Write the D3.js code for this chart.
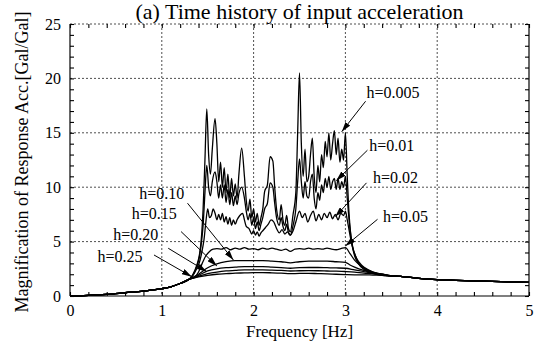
<!DOCTYPE html>
<html>
<head>
<meta charset="utf-8">
<script src="https://cdn.jsdelivr.net/npm/d3@7"></script>
<style>
	body { margin: 0; background: #fff; }
	svg { display: block; font-family: "Liberation Serif", "Times New Roman", serif; }
	svg text { font-family: "Liberation Serif", "Times New Roman", serif; }
</style>
</head>
<body>
<svg id="chart" width="536" height="343"></svg>
<script>
// common low-frequency rise and high-frequency tail, shared by every damping ratio
const rise = [[0,0],[0.1,0.02],[0.2,0.05],[0.4,0.15],[0.6,0.3],[0.8,0.45],[1.0,0.67],[1.1,0.85],[1.2,1.15],[1.3,1.55]];
const tail = [[3.5,1.85],[3.6,1.8],[3.8,1.62],[4.0,1.5],[4.2,1.44],[4.5,1.36],[4.8,1.3],[5.0,1.26]];

const h005 = [[1.34,2.0],[1.38,2.8],[1.41,3.8],[1.43,5.2],[1.45,8.0],[1.47,12.5],[1.49,17.2],[1.51,13.0],[1.53,11.2],[1.55,13.5],[1.58,16.3],[1.60,14.0],[1.62,10.5],[1.64,12.3],[1.66,10.0],[1.68,11.8],[1.70,9.5],[1.72,11.2],[1.74,9.0],[1.76,10.8],[1.78,9.2],[1.80,10.3],[1.82,9.0],[1.84,11.2],[1.87,13.6],[1.90,11.0],[1.92,8.8],[1.94,7.8],[1.96,8.9],[1.98,7.2],[2.00,8.0],[2.02,6.8],[2.04,7.6],[2.06,6.5],[2.08,7.2],[2.10,8.0],[2.12,9.6],[2.15,10.2],[2.18,12.8],[2.21,12.4],[2.23,10.0],[2.25,8.0],[2.28,7.0],[2.30,8.4],[2.32,7.0],[2.34,6.5],[2.36,7.4],[2.38,6.2],[2.40,5.9],[2.43,7.5],[2.46,9.5],[2.48,15.0],[2.50,20.5],[2.52,14.0],[2.54,11.0],[2.56,13.5],[2.58,10.5],[2.60,11.0],[2.62,13.0],[2.64,14.5],[2.66,11.0],[2.68,9.5],[2.70,12.0],[2.72,10.5],[2.74,13.0],[2.76,11.8],[2.78,14.2],[2.80,12.8],[2.82,15.0],[2.84,12.5],[2.86,14.0],[2.88,15.2],[2.90,13.0],[2.92,14.5],[2.94,12.3],[2.96,13.5],[2.98,12.5],[3.00,15.0],[3.02,11.0],[3.04,7.5],[3.06,5.5],[3.08,4.4],[3.10,3.7],[3.14,3.0],[3.20,2.45],[3.30,2.05],[3.40,1.9]];
const h01 = [[1.34,1.95],[1.38,2.7],[1.41,3.6],[1.43,4.8],[1.45,6.5],[1.47,9.5],[1.49,12.0],[1.51,10.0],[1.53,9.2],[1.55,10.5],[1.58,11.4],[1.60,10.5],[1.62,9.0],[1.64,10.2],[1.66,9.0],[1.68,10.2],[1.70,8.6],[1.72,9.8],[1.74,8.4],[1.76,9.5],[1.78,8.3],[1.80,9.2],[1.82,8.4],[1.84,9.4],[1.87,10.0],[1.90,9.0],[1.92,7.8],[1.94,7.0],[1.96,7.6],[1.98,6.5],[2.00,7.2],[2.02,6.2],[2.04,6.8],[2.06,6.0],[2.08,6.6],[2.10,7.2],[2.12,8.0],[2.15,8.5],[2.18,10.4],[2.21,10.0],[2.23,8.5],[2.25,7.2],[2.28,6.5],[2.30,7.2],[2.32,6.4],[2.34,6.0],[2.36,6.6],[2.38,5.8],[2.40,5.6],[2.43,6.5],[2.46,8.0],[2.48,10.5],[2.50,12.6],[2.52,10.5],[2.54,9.0],[2.56,10.5],[2.58,9.2],[2.60,9.0],[2.62,10.5],[2.64,11.2],[2.66,9.0],[2.68,8.0],[2.70,9.5],[2.72,8.8],[2.74,10.2],[2.76,9.5],[2.78,10.8],[2.80,10.0],[2.82,11.0],[2.84,9.8],[2.86,10.5],[2.88,10.8],[2.90,9.8],[2.92,10.8],[2.94,9.8],[2.96,10.5],[2.98,10.0],[3.00,11.0],[3.02,9.0],[3.04,7.0],[3.06,5.5],[3.08,4.5],[3.10,3.9],[3.14,3.1],[3.20,2.55],[3.30,2.1],[3.40,1.92]];
const h02 = [[1.34,1.9],[1.38,2.5],[1.41,3.1],[1.44,4.2],[1.46,5.2],[1.48,6.8],[1.50,8.0],[1.52,7.2],[1.54,7.4],[1.56,8.0],[1.58,7.6],[1.60,7.0],[1.62,7.5],[1.64,7.0],[1.66,7.6],[1.68,6.8],[1.70,7.3],[1.72,6.6],[1.74,7.2],[1.76,6.5],[1.78,7.0],[1.80,6.6],[1.82,7.0],[1.85,7.4],[1.88,7.6],[1.90,7.0],[1.92,6.4],[1.95,6.2],[1.98,5.7],[2.00,6.0],[2.02,5.6],[2.04,5.9],[2.06,5.5],[2.08,5.8],[2.10,6.0],[2.13,6.3],[2.16,6.6],[2.19,7.0],[2.22,6.8],[2.25,6.2],[2.28,5.8],[2.31,6.1],[2.34,5.7],[2.37,5.9],[2.40,5.6],[2.43,6.0],[2.46,6.8],[2.50,7.8],[2.53,7.2],[2.56,7.6],[2.59,6.8],[2.62,7.4],[2.65,7.8],[2.68,6.9],[2.71,7.5],[2.74,7.0],[2.77,7.6],[2.80,7.2],[2.83,7.7],[2.86,7.1],[2.89,7.5],[2.92,7.0],[2.95,7.6],[2.98,7.4],[3.00,7.8],[3.02,7.0],[3.05,5.6],[3.08,4.4],[3.12,3.5],[3.18,2.8],[3.25,2.4],[3.35,2.05],[3.45,1.88]];
const h05 = [[1.36,1.75],[1.40,2.2],[1.44,3.0],[1.48,3.7],[1.52,4.1],[1.56,4.3],[1.60,4.35],[1.65,4.3],[1.70,4.45],[1.75,4.25],[1.80,4.4],[1.85,4.3],[1.90,4.45],[1.95,4.3],[2.00,4.35],[2.05,4.25],[2.10,4.4],[2.15,4.3],[2.20,4.4],[2.25,4.3],[2.30,4.2],[2.35,4.3],[2.40,4.1],[2.45,4.3],[2.50,4.35],[2.55,4.3],[2.60,4.4],[2.65,4.3],[2.70,4.35],[2.75,4.3],[2.80,4.4],[2.85,4.3],[2.90,4.25],[2.95,4.35],[3.00,4.45],[3.05,3.9],[3.10,3.3],[3.15,2.9],[3.20,2.6],[3.30,2.2],[3.40,2.0]];
const h10 = [[1.4,2.0],[1.5,2.6],[1.6,2.95],[1.7,3.15],[1.8,3.25],[1.9,3.25],[2.0,3.25],[2.1,3.25],[2.2,3.2],[2.3,3.15],[2.4,3.05],[2.5,3.15],[2.6,3.2],[2.7,3.2],[2.8,3.2],[2.9,3.15],[3.0,3.1],[3.05,2.85],[3.1,2.65],[3.2,2.35],[3.3,2.15],[3.4,2.0]];
const h15 = [[1.4,1.9],[1.5,2.3],[1.6,2.5],[1.7,2.6],[1.8,2.65],[1.9,2.7],[2.0,2.7],[2.1,2.7],[2.2,2.65],[2.3,2.6],[2.4,2.55],[2.5,2.6],[2.6,2.62],[2.7,2.62],[2.8,2.6],[2.9,2.58],[3.0,2.55],[3.1,2.4],[3.2,2.25],[3.3,2.1],[3.4,2.0]];
const h20 = [[1.4,1.8],[1.5,2.05],[1.6,2.2],[1.7,2.3],[1.8,2.35],[1.9,2.4],[2.0,2.4],[2.1,2.4],[2.2,2.38],[2.3,2.35],[2.4,2.3],[2.5,2.32],[2.6,2.33],[2.7,2.32],[2.8,2.3],[2.9,2.28],[3.0,2.25],[3.1,2.2],[3.2,2.1],[3.3,2.05],[3.4,1.95]];
const h25 = [[1.4,1.75],[1.5,1.9],[1.6,2.0],[1.7,2.05],[1.8,2.1],[1.9,2.12],[2.0,2.15],[2.1,2.15],[2.2,2.13],[2.3,2.1],[2.4,2.05],[2.5,2.08],[2.6,2.08],[2.7,2.06],[2.8,2.04],[2.9,2.0],[3.0,1.97],[3.1,1.95],[3.2,1.95],[3.3,1.92],[3.4,1.9]];

const seriesMids = [h005, h01, h02, h05, h10, h15, h20, h25];

// annotation labels: text anchor (f, v), arrow start and arrow tip in data units
const labels = ["h=0.005", "h=0.01", "h=0.02", "h=0.05", "h=0.10", "h=0.15", "h=0.20", "h=0.25"];
const labelPos = [[3.23,18.16],[3.26,13.3],[3.30,10.37],[3.41,6.8],[0.755,8.96],[0.672,7.06],[0.47,5.12],[0.30,3.13]];
const arrowFrom = [[3.22,17.9],[3.24,13.4],[3.23,10.4],[3.35,7.05],[1.28,8.53],[1.21,5.92],[1.07,4.39],[0.915,3.77]];
const arrowTo = [[2.96,15.1],[2.90,10.6],[2.89,7.3],[3.0,4.6],[1.78,3.31],[1.60,2.76],[1.49,2.24],[1.326,1.78]];

const xTicks = [0, 1, 2, 3, 4, 5];
const yTicks = [0, 5, 10, 15, 20, 25];

const W = 536, H = 343;
const m = { top: 24, right: 7, bottom: 47, left: 70 };
const iw = W - m.left - m.right;
const ih = H - m.top - m.bottom;
const serif = "Liberation Serif";

const svg = d3.select("#chart");

svg.append("defs").append("marker")
	.attr("id", "arr")
	.attr("viewBox", "0 0 10 6")
	.attr("refX", 10).attr("refY", 3)
	.attr("markerWidth", 10).attr("markerHeight", 6)
	.attr("markerUnits", "userSpaceOnUse")
	.attr("orient", "auto")
	.append("path").attr("d", "M0,0 L10,3 L0,6 Z").attr("fill", "#000");

const g = svg.append("g").attr("transform", `translate(${m.left}, ${m.top})`);

const x = d3.scaleLinear().domain([0, 5]).range([0, iw]);
const y = d3.scaleLinear().domain([0, 25]).range([ih, 0]);

// grid
g.append("g").selectAll("line").data(xTicks.slice(1, -1)).join("line")
	.attr("x1", d => x(d)).attr("x2", d => x(d)).attr("y1", 0).attr("y2", ih)
	.attr("stroke", "#222").attr("stroke-width", 0.8).attr("stroke-dasharray", "2,2");
g.append("g").selectAll("line").data(yTicks.slice(1)).join("line")
	.attr("x1", 0).attr("x2", iw).attr("y1", d => y(d)).attr("y2", d => y(d))
	.attr("stroke", "#222").attr("stroke-width", 0.8).attr("stroke-dasharray", "2,2");

// frame (top edge stays dotted as in the original)
g.append("line").attr("x1", 0).attr("x2", 0).attr("y1", 0).attr("y2", ih).attr("stroke", "#000").attr("stroke-width", 1.2);
g.append("line").attr("x1", 0).attr("x2", iw).attr("y1", ih).attr("y2", ih).attr("stroke", "#000").attr("stroke-width", 1.2);
g.append("line").attr("x1", iw).attr("x2", iw).attr("y1", 0).attr("y2", ih).attr("stroke", "#000").attr("stroke-width", 1.2);

// inward ticks on all four sides
const xMinor = d3.range(0, 5.001, 0.2);
const yMinor = d3.range(0, 25.001, 1);
function tickAxis(axisFn, scale, vals, size, tr) {
	const a = g.append("g").attr("transform", tr)
		.call(axisFn(scale).tickValues(vals).tickSizeInner(size).tickSizeOuter(0).tickFormat(""));
	a.select(".domain").remove();
	a.selectAll("line").attr("stroke", "#000").attr("stroke-width", 1.1);
}
tickAxis(d3.axisTop, x, xMinor, 4, `translate(0, ${ih})`);
tickAxis(d3.axisBottom, x, xMinor, 4, "translate(0, 0)");
tickAxis(d3.axisRight, y, yMinor, 4, "translate(0, 0)");
tickAxis(d3.axisLeft, y, yMinor, 4, `translate(${iw}, 0)`);

// tick labels
const xa = g.append("g").attr("transform", `translate(0, ${ih})`)
	.call(d3.axisBottom(x).tickValues(xTicks).tickSize(0).tickPadding(9).tickFormat(d3.format("d")));
xa.attr("font-family", serif);
xa.select(".domain").remove();
xa.selectAll("text").attr("font-size", 16).style("font-family", serif).attr("fill", "#000");
const ya = g.append("g")
	.call(d3.axisLeft(y).tickValues(yTicks).tickSize(0).tickPadding(9).tickFormat(d3.format("d")));
ya.attr("font-family", serif);
ya.select(".domain").remove();
ya.selectAll("text").attr("font-size", 16).style("font-family", serif).attr("fill", "#000");

// curves
const line = d3.line().x(d => x(d[0])).y(d => y(d[1])).curve(d3.curveMonotoneX);
g.append("g").selectAll("path").data(seriesMids).join("path")
	.attr("d", d => line(rise.concat(d, tail)))
	.attr("fill", "none").attr("stroke", "#000").attr("stroke-width", 1.3).attr("stroke-linejoin", "round");

// annotations
const ann = g.append("g");
ann.selectAll("line").data(labels).join("line")
	.attr("x1", (d, i) => x(arrowFrom[i][0])).attr("y1", (d, i) => y(arrowFrom[i][1]))
	.attr("x2", (d, i) => x(arrowTo[i][0])).attr("y2", (d, i) => y(arrowTo[i][1]))
	.attr("stroke", "#000").attr("stroke-width", 1).attr("marker-end", "url(#arr)");
ann.selectAll("text").data(labels).join("text")
	.attr("x", (d, i) => x(labelPos[i][0])).attr("y", (d, i) => y(labelPos[i][1]))
	.attr("font-size", 16).attr("fill", "#000").text(d => d);

// titles
svg.append("text").attr("x", m.left + iw / 2).attr("y", 19)
	.attr("text-anchor", "middle").attr("font-size", 22).text("(a) Time history of input acceleration");
svg.append("text").attr("transform", `translate(28, ${m.top + ih / 2 + 2}) rotate(-90)`)
	.attr("text-anchor", "middle").attr("font-size", 18).text("Magnification of Response Acc.[Gal/Gal]");
svg.append("text").attr("x", m.left + iw / 2).attr("y", 337)
	.attr("text-anchor", "middle").attr("font-size", 17).text("Frequency [Hz]");
</script>
</body>
</html>
